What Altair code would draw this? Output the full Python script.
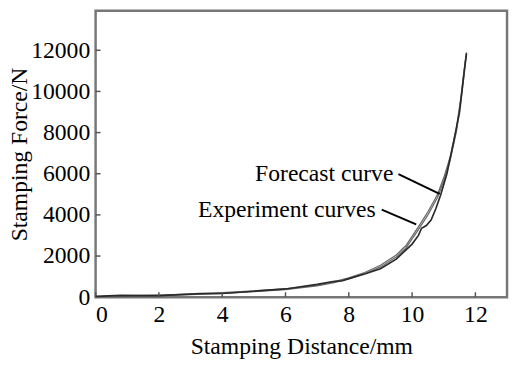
import altair as alt
import pandas as pd

# Experiment curves (two nearly coincident measured curves, left/upper)
exp1_x = [0, 1, 2, 3, 4, 5, 6, 7, 7.5, 8, 8.5, 9, 9.5, 9.8, 10, 10.2, 10.5, 10.8, 11, 11.2, 11.4, 11.55, 11.65, 11.72]
exp1_y = [30, 60, 100, 150, 220, 300, 400, 590, 740, 940, 1200, 1550, 2050, 2500, 2950, 3420, 4150, 4980, 5800, 6800, 8200, 9800, 11100, 11900]
exp2_x = [0, 1, 2, 3, 4, 5, 6, 7, 7.5, 8, 8.5, 9, 9.5, 9.8, 10, 10.2, 10.5, 10.8, 11, 11.2, 11.4, 11.55, 11.65, 11.7]
exp2_y = [10, 40, 80, 120, 190, 270, 370, 550, 700, 890, 1140, 1470, 1950, 2380, 2830, 3280, 4000, 4830, 5650, 6650, 8050, 9650, 10950, 11700]

# Forecast curve (right/lower, with small kinks)
fc_x = [0, 0.8, 2, 3.3, 4, 5, 6, 7, 7.5, 7.8, 8, 8.5, 9, 9.5, 10, 10.2, 10.3, 10.45, 10.6, 10.75, 10.9, 11.1, 11.3, 11.5, 11.65, 11.72]
fc_y = [40, 90, 80, 170, 180, 290, 400, 620, 760, 800, 900, 1130, 1380, 1850, 2580, 3000, 3350, 3480, 3750, 4300, 4950, 6000, 7450, 9000, 11000, 11850]

x_ticks = [0, 2, 4, 6, 8, 10, 12]
y_ticks = [0, 2000, 4000, 6000, 8000, 10000, 12000]

# Annotations: label text anchor and leader line (data coordinates)
ann_labels = ["Forecast curve", "Experiment curves"]
ann_tx = [9.41, 8.85]
ann_ty = [5642, 3921]
ann_lx1 = [9.57, 9.04]
ann_ly1 = [5977, 4255]
ann_lx2 = [10.87, 10.13]
ann_ly2 = [5020, 3538]

rows = []
for name, xs, ys in [("Experiment 1", exp1_x, exp1_y), ("Experiment 2", exp2_x, exp2_y), ("Forecast", fc_x, fc_y)]:
    for i, (a, b) in enumerate(zip(xs, ys)):
        rows.append({"series": name, "d": a, "f": b, "i": i})
df = pd.DataFrame(rows)

ann = pd.DataFrame({"label": ann_labels, "tx": ann_tx, "ty": ann_ty,
                    "x1": ann_lx1, "y1": ann_ly1, "x2": ann_lx2, "y2": ann_ly2})

W, H = 418, 291
FONT = "Liberation Serif"
FS = 24
xsc = alt.Scale(domain=[0, 13], nice=False, zero=False)
ysc = alt.Scale(domain=[0, 13920], nice=False)
xaxis = alt.Axis(values=x_ticks, title="Stamping Distance/mm", labelPadding=6,
                 titleY=57, titleBaseline="alphabetic")
yaxis = alt.Axis(values=y_ticks, title="Stamping Force/N", format="d", labelPadding=6,
                 titleX=-70, titleY=H / 2, titleBaseline="alphabetic", titleAngle=-90)


def X(field):
    return alt.X(field, type="quantitative", scale=xsc, axis=xaxis)


def Y(field):
    return alt.Y(field, type="quantitative", scale=ysc, axis=yaxis)


exp = alt.Chart(df[df.series != "Forecast"]).mark_line(strokeWidth=1.3, color="#6a6a6a").encode(
    x=X("d"), y=Y("f"), detail="series:N", order="i:Q")
fc = alt.Chart(df[df.series == "Forecast"]).mark_line(strokeWidth=1.7, color="#2a2a2a").encode(
    x=X("d"), y=Y("f"), order="i:Q")

texts = alt.Chart(ann).mark_text(align="right", baseline="alphabetic", font=FONT,
                                 fontSize=FS, color="black").encode(
    x=X("tx"), y=Y("ty"), text="label:N")
leaders = alt.Chart(ann).mark_rule(strokeWidth=2, color="black").encode(
    x=X("x1"), y=Y("y1"), x2="x2:Q", y2="y2:Q")

xt = alt.Chart(pd.DataFrame({"v": x_ticks})).mark_rule(color="#555", strokeWidth=1.5).encode(
    x=X("v"), y=alt.value(H), y2=alt.value(H - 5))
yt = alt.Chart(pd.DataFrame({"v": y_ticks[1:]})).mark_rule(color="#555", strokeWidth=1.5).encode(
    y=Y("v"), x=alt.value(0), x2=alt.value(5))

chart = alt.layer(exp, fc, leaders, texts, xt, yt).properties(
    width=W, height=H,
    autosize=alt.AutoSizeParams(type="none"),
    padding={"left": 89, "top": 0, "right": 2, "bottom": 60},
).configure_view(stroke="#777", strokeWidth=2.5).configure_axis(
    grid=False, domain=False, ticks=False,
    labelFont=FONT, labelFontSize=FS, labelColor="black",
    titleFont=FONT, titleFontSize=FS, titleFontWeight="normal", titleColor="black",
)

chart.save("out.html", embed_options={"renderer": "svg", "actions": False})
